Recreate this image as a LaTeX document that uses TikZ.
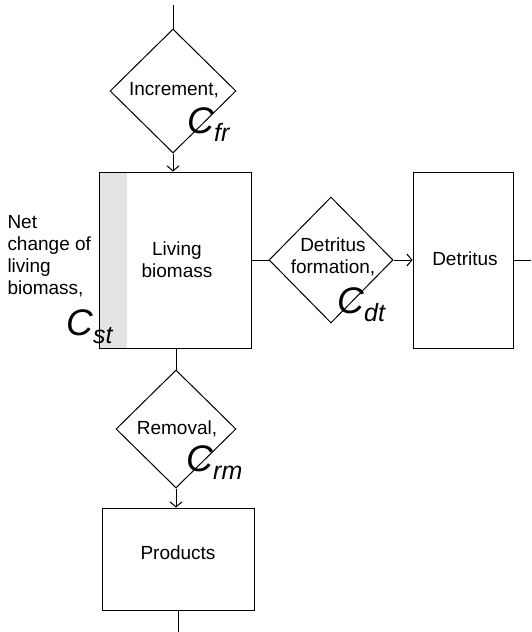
\documentclass[tikz,border=0pt]{standalone}
\usepackage{fontspec}
\setmainfont{Liberation Sans}
\usetikzlibrary{shapes.geometric,arrows.meta}
\newcommand\Cvar[1]{{\fontsize{37}{37}\selectfont\itshape C}\raisebox{-8pt}{\fontsize{25}{25}\selectfont\itshape #1}}
\begin{document}
\begin{tikzpicture}[x=1pt,y=-1pt,
 line width=1pt,
 box/.style={draw,rectangle,inner sep=0pt,line width=1pt},
 dia/.style={draw,diamond,inner sep=0pt,line width=1pt},
 lbl/.style={font=\fontsize{19}{22}\selectfont,align=center,inner sep=0pt},
 cv/.style={anchor=base west,inner sep=0pt},
 arr/.style={-{Straight Barb[length=5pt,width=12pt]}}]
\useasboundingbox (0,0) rectangle (531,632);
% strip
\fill[gray!22] (99,172) rectangle (127,348);
% boxes
\node[box,minimum width=152pt,minimum height=176pt] (lb) at (175,260) {};
\node[box,minimum width=100pt,minimum height=176pt] (detbox) at (463,260) {};
\node[box,minimum width=152pt,minimum height=102pt] (prod) at (178,559) {};
% diamonds
\node[dia,minimum width=126pt,minimum height=124pt] (inc) at (173,91) {};
\node[dia,minimum width=124pt,minimum height=126pt] (det) at (331,260) {};
\node[dia,minimum width=120pt,minimum height=118pt] (rem) at (176,429) {};
% texts
\node[lbl] (tinc) at (174,90) {Increment,};
\node[lbl] (tlb) at (177,260) {Living\\biomass};
\node[lbl] (tdet) at (333,257) {Detritus\\formation,};
\node[lbl] (tdetbox) at (465,259) {Detritus};
\node[lbl] (trem) at (177,429) {Removal,};
\node[lbl] (tprod) at (178,553) {Products};
\node[lbl,align=left,anchor=north west] (tnet) at (7,215) {Net\\change of\\living\\biomass,};
\node[cv] (cfr) at (187,133) {\Cvar{fr}};
\node[cv] (cst) at (66,335) {\Cvar{st}};
\node[cv] (cdt) at (337,313) {\Cvar{dt}};
\node[cv] (crm) at (186,471) {\Cvar{rm}};
% connectors
\coordinate (top) at (173,5);
\coordinate (rt) at (531,260);
\coordinate (bot) at (178,632);
\draw (top) -- (inc.north);
\draw[arr] (inc.south) -- (inc.south |- lb.north);
\draw (lb.east) -- (det.west);
\draw[arr] (det.east) -- (detbox.west);
\draw (detbox.east) -- (rt);
\draw (lb.south -| rem.north) -- (rem.north);
\draw[arr] (rem.south) -- (rem.south |- prod.north);
\draw (prod.south) -- (bot);
\end{tikzpicture}
\end{document}
